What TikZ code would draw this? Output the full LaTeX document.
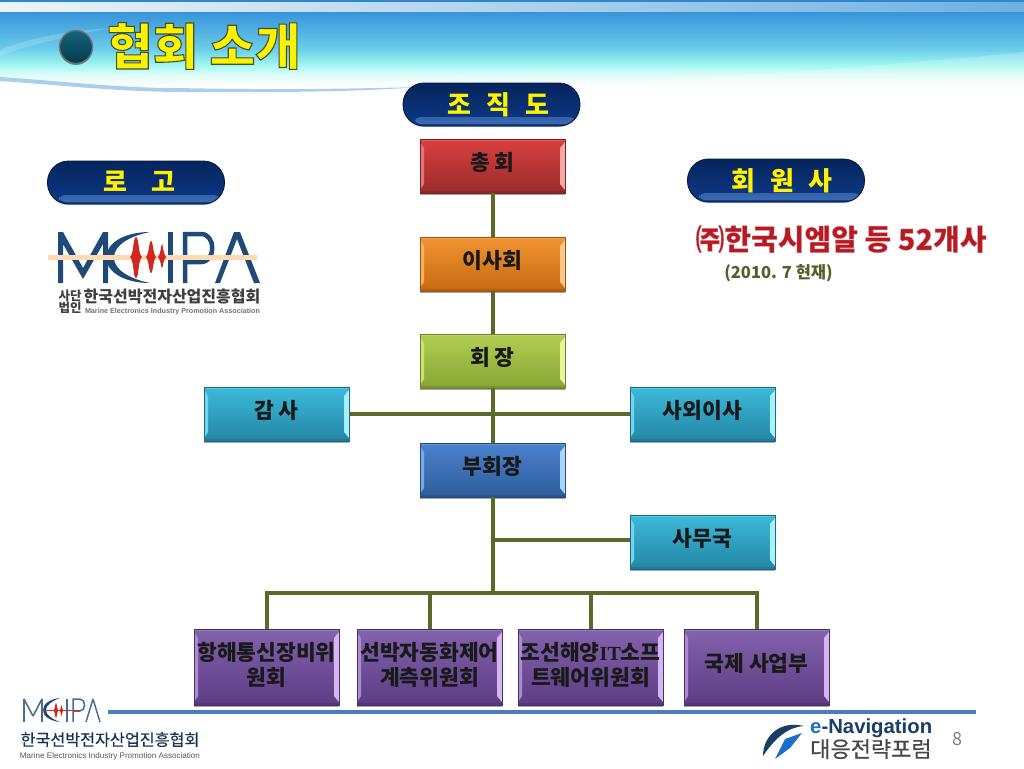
\documentclass[tikz,border=0pt]{standalone}
\usepackage{fontspec}
\usepackage{graphicx}
\setmainfont{Noto Sans CJK KR}
\newfontfamily\engfont{Liberation Sans}
\newfontfamily\itfont{Liberation Serif}
\usetikzlibrary{shadows}
\definecolor{conn}{HTML}{5A6A28}
\definecolor{navy}{HTML}{1F4A78}
\definecolor{logored}{HTML}{D0281E}
\definecolor{rA}{HTML}{D8403F}\definecolor{rB}{HTML}{9A2B2B}\definecolor{rL}{HTML}{F4A8A8}
\definecolor{oA}{HTML}{F29432}\definecolor{oB}{HTML}{C66A12}\definecolor{oL}{HTML}{FBC88C}
\definecolor{gA}{HTML}{B2CE52}\definecolor{gB}{HTML}{86A534}\definecolor{gL}{HTML}{E8F49C}
\definecolor{cA}{HTML}{3CBADA}\definecolor{cB}{HTML}{2386A6}\definecolor{cL}{HTML}{A8F0FC}
\definecolor{bA}{HTML}{4A82CE}\definecolor{bB}{HTML}{2E5C9C}\definecolor{bL}{HTML}{AAD6FA}
\definecolor{pA}{HTML}{8462AE}\definecolor{pB}{HTML}{5C3C84}\definecolor{pL}{HTML}{D4B6F0}
\definecolor{pillA}{HTML}{06245C}\definecolor{pillB}{HTML}{0E3A86}\definecolor{pillC}{HTML}{3E6CB4}
\definecolor{hA}{HTML}{3894DA}\definecolor{hB}{HTML}{6CCCEA}\definecolor{hC}{HTML}{A0F8F0}\definecolor{hD}{HTML}{DDFCF8}
\definecolor{topbar}{HTML}{2B88D0}\definecolor{paleL}{HTML}{EEF4FA}\definecolor{paleR}{HTML}{6FB0E0}
\definecolor{swoosh}{HTML}{A8D0EC}\definecolor{rule}{HTML}{4A7EBB}
\definecolor{memred}{HTML}{B81A24}\definecolor{dategreen}{HTML}{4F6228}\definecolor{eblue}{HTML}{1A70C8}
\definecolor{ballA}{HTML}{14637A}\definecolor{ballB}{HTML}{063A4E}
\pgfdeclareverticalshading{hdr}{100bp}{color(0bp)=(white);color(25bp)=(white);color(29bp)=(white);color(36bp)=(hD);color(42bp)=(hC);color(52bp)=(hB);color(75bp)=(hA);color(100bp)=(hA)}
\newcommand\outl[4]{{\addfontfeatures{FakeBold=#1}\color{#3}\special{pdf:code #2 RG}#4}}
\newcommand\dn{\rule[-9pt]{0pt}{0pt}}
\newcommand\dnb{\rule[-6pt]{0pt}{0pt}}
\tikzset{
  orgbox/.style n args={4}{rectangle,minimum width=#1,minimum height=#2,inner sep=0pt,align=center,
    top color=#3A,bottom color=#3B,draw=#3B!80!black,line width=.6pt,
    font=\fontsize{21.5}{25}\selectfont\bfseries,text=black!90,
    drop shadow={shadow xshift=0pt,shadow yshift=-2pt,opacity=.35,fill=black},
    path picture={
      \fill[#3L!50!#3A] ([xshift=0pt,yshift=-3pt]path picture bounding box.north west)--([xshift=4pt,yshift=-9pt]path picture bounding box.north west)--([xshift=4pt,yshift=9pt]path picture bounding box.south west)--([xshift=0pt,yshift=3pt]path picture bounding box.south west)--cycle;
      \fill[#3L] ([xshift=0pt,yshift=-3pt]path picture bounding box.north east)--([xshift=-5pt,yshift=-9pt]path picture bounding box.north east)--([xshift=-5pt,yshift=9pt]path picture bounding box.south east)--([xshift=0pt,yshift=3pt]path picture bounding box.south east)--cycle;
      \fill[#3B!90!black] ([yshift=2.5pt]path picture bounding box.south west) rectangle (path picture bounding box.south east);
      \fill[#3A!70!white,opacity=.5] ([yshift=-2pt]path picture bounding box.north west) rectangle (path picture bounding box.north east);
    }},
  pill/.style={rectangle,rounded corners=21pt,minimum width=#1,minimum height=43pt,inner sep=0pt,
    draw=pillA!70!black,line width=.8pt,top color=pillA,bottom color=pillB,
    drop shadow={shadow xshift=0pt,shadow yshift=-1pt,opacity=.3,fill=black},
    font=\fontsize{26}{30}\selectfont\bfseries,text=yellow,
    path picture={\shade[top color=pillB,bottom color=pillC,rounded corners=5pt] ([xshift=12pt,yshift=9pt]path picture bounding box.south west) rectangle ([xshift=-5pt,yshift=2pt]path picture bounding box.south east);}},
  connector/.style={draw=conn,line width=4pt,line cap=butt},
  lbl/.style={inner sep=0pt,text=black}
}
\begin{document}
\begin{tikzpicture}[x=1pt,y=-1pt]
\useasboundingbox (0,0) rectangle (1024,768);
\fill[white] (0,0) rectangle (1024,768);
% header
\shade[shading=hdr] (0,12) rectangle (1024,92);
\fill[topbar] (0,0) rectangle (1024,2.5);
\shade[left color=paleL,right color=paleR] (0,2.5) rectangle (1024,12);
\fill[white,opacity=.18] (0,50) .. controls (30,38) and (60,32) .. (110,28) .. controls (70,36) and (30,44) .. (0,56) -- cycle;
\fill[white,opacity=.2] (400,91) .. controls (600,86) and (850,70) .. (1024,52) -- (1024,91) -- cycle;
\fill[white] (0,81) .. controls (60,85) and (120,92) .. (200,92) -- (1024,92) -- (1024,100) -- (0,100) -- cycle;
\fill[swoosh] (0,77) .. controls (60,81) and (120,88) .. (175,88) .. controls (280,90) and (340,89) .. (420,87) .. controls (340,93) and (260,92) .. (175,92) .. controls (110,91) and (60,85) .. (0,81) -- cycle;
\node[circle,minimum size=33pt,inner sep=0pt,draw=black!55,line width=1.4pt,top color=ballA,bottom color=ballB,drop shadow={shadow xshift=0pt,shadow yshift=-1.5pt,opacity=.4,fill=black}] (bullet) at (76,47) {};
\node[lbl,font=\fontsize{49.5}{52}\selectfont\bfseries] (title) at (204,46) {\outl{2.2}{0.24 0.32 0.18}{yellow}{협회 소개}};
% pills
\node[pill=177pt] (pOrg) at (491.5,104.5) {\raisebox{1.5pt}{\hspace*{14pt}조\hspace{15.5pt}직\hspace{15.5pt}도}};
\node[pill=177pt] (pLogo) at (136,182.5) {\raisebox{1.5pt}{\hspace*{7pt}로\hspace{24pt}고}};
\node[pill=177pt] (pMem) at (776,180.5) {\raisebox{1.5pt}{\hspace*{12pt}회\hspace{15pt}원\hspace{15pt}사}};
% boxes
\node[orgbox={145pt}{54pt}{r}{}] (chong) at (492.5,166) {총 회\dn};
\node[orgbox={145pt}{54pt}{o}{}] (isa) at (492.5,264) {이사회\dn};
\node[orgbox={145pt}{54pt}{g}{}] (chair) at (492.5,361) {회 장\dn};
\node[orgbox={145pt}{54pt}{c}{}] (gamsa) at (276.5,414) {감 사\dn};
\node[orgbox={145pt}{54pt}{c}{}] (oe) at (702.5,414) {사외이사\dn};
\node[orgbox={145pt}{54pt}{b}{}] (vp) at (492.5,470) {부회장\dn};
\node[orgbox={145pt}{54pt}{c}{}] (samu) at (702.5,542) {사무국\dn};
\node[orgbox={145pt}{76pt}{p}{}] (c1) at (266.5,667) {항해통신장비위\\원회\dnb};
\node[orgbox={145pt}{76pt}{p}{}] (c2) at (429.5,667) {선박자동화제어\\계측위원회\dnb};
\node[orgbox={145pt}{76pt}{p}{}] (c3) at (590.5,667) {조선해양{\itfont\fontsize{20}{25}\selectfont\bfseries IT}소프\\트웨어위원회\dnb};
\node[orgbox={145pt}{76pt}{p}{}] (c4) at (756.5,667) {국제 사업부\dn};
% connectors
\coordinate (bus) at (492.5,593);
\draw[connector] (chong) -- (isa);
\draw[connector] (isa) -- (chair);
\draw[connector] (chair) -- (vp);
\draw[connector] (gamsa) -- (oe);
\draw[connector] (vp) -- (bus);
\draw[connector] ([yshift=2pt]samu.west) -- ([yshift=2pt]samu.west -| vp.south);
\draw[connector] (c1.north) |- (bus);
\draw[connector] (c2.north) |- (bus);
\draw[connector] (c3.north) |- (bus);
\draw[connector] (c4.north) |- (bus);
% member text
\node[lbl,font=\fontsize{29}{31}\selectfont\bfseries] (mem) at (841,239) {\outl{1.1}{0.86 0.62 0.62}{memred}{㈜한국시엠알 등 52개사}};
\node[lbl,font=\fontsize{16.5}{18}\selectfont\bfseries,text=dategreen] (date) at (778.5,273) {(2010. 7 현재)};
% big logo
\begin{scope}[shift={(58,232)}]
  \fill[navy] (0,51) -- (0,0) -- (5,0) -- (25,36) -- (45,0) -- (50,0) -- (50,51) -- (45,51) -- (45,12) -- (25,47) -- (5,12) -- (5,51) -- cycle;
  \fill[navy] (92,0) .. controls (65,0) and (48,12) .. (48,25.5) .. controls (48,39) and (65,51) .. (92,51) .. controls (72,47) and (56,38) .. (56,25.5) .. controls (56,13) and (72,4) .. (92,0) -- cycle;
  \fill[navy] (110,0) rectangle (115,51);
  \draw[navy,line width=4.5pt] (127,51) -- (127,2) -- (143,2) .. controls (158,2) and (158,30) .. (143,30) -- (127,30);
  \fill[navy] (157,51) -- (176,0) -- (182,0) -- (202,51) -- (196,51) -- (179,7) -- (162,51) -- cycle;
  \shade[left color=orange!30!white,middle color=logored!70!orange,right color=orange!30!white] (-10,23.5) rectangle (199,27);
  \fill[logored] (72,25) .. controls (76,22) and (75,5) .. (78,5) .. controls (81,5) and (80,22) .. (84,25) .. controls (80,28) and (81,46) .. (78,46) .. controls (75,46) and (76,28) .. (72,25) -- cycle;
  \fill[logored] (88,25) .. controls (91,22) and (91,9) .. (93,9) .. controls (95,9) and (95,22) .. (98,25) .. controls (95,28) and (95,41) .. (93,41) .. controls (91,41) and (91,28) .. (88,25) -- cycle;
  \fill[logored] (100,25) .. controls (103,22) and (103,12) .. (104,12) .. controls (105,12) and (105,22) .. (108,25) .. controls (105,28) and (105,36) .. (104,36) .. controls (103,36) and (103,28) .. (100,25) -- cycle;
\end{scope}
\node[lbl,font=\fontsize{12.5}{13}\selectfont\bfseries,text=black!75] (sadan) at (70,295.5) {사단};
\node[lbl,font=\fontsize{12.5}{13}\selectfont\bfseries,text=black!75] (beobin) at (70,307.5) {법인};
\node[lbl,font=\fontsize{16}{18}\selectfont\bfseries,text=black!75] (kname) at (172,296) {한국선박전자산업진흥협회};
\node[lbl,text=black!55,font=\engfont\bfseries] (ename) at (172.5,311.5) {\resizebox{175pt}{!}{Marine Electronics Industry Promotion Association}};
% bottom rule
\coordinate (ruleL) at (108,712);
\coordinate (ruleR) at (976,712);
\draw[rule,line width=4pt] (ruleL) -- (ruleR);
% small logo
\begin{scope}[shift={(23,698)}]
  \draw[navy!80!white,line width=1.6pt,line join=bevel] (1,24) -- (1,1) -- (10,18) -- (19,1) -- (19,24);
  \fill[navy] (37,0) .. controls (27,1) and (20,6) .. (20,12) .. controls (20,18) and (27,23) .. (37,24) .. controls (29,21) and (23,17) .. (23,12) .. controls (23,7) and (29,3) .. (37,0) -- cycle;
  \fill[navy!80!white] (43,1) rectangle (45,24);
  \draw[navy!80!white,line width=1.5pt] (50,24) -- (50,1) -- (57,1) .. controls (63,1) and (63,13) .. (57,13) -- (50,13);
  \draw[navy!80!white,line width=1.5pt,line join=bevel] (63,24) -- (70,1) -- (77,24);
  \fill[logored] (20,12.2) rectangle (57,13.2);
  \fill[logored] (31,12.5) -- (33,4) -- (35,12.5) -- (33,21) -- cycle;
  \fill[logored] (37,12.5) -- (38.5,7) -- (40,12.5) -- (38.5,18) -- cycle;
\end{scope}
\node[lbl,font=\fontsize{16.2}{18}\selectfont,text=navy!70!black] (kname2) at (110,739.5) {\outl{0.4}{0.12 0.25 0.38}{navy!70!black}{한국선박전자산업진흥협회}};
\node[lbl,text=black!65,font=\engfont] (ename2) at (110,756) {\resizebox{180pt}{!}{Marine Electronics Industry Promotion Association}};
% forum logo
\fill[navy!85!black] (763,756) .. controls (763,736) and (780,720) .. (804,726) .. controls (788,727) and (775,738) .. (763,756) -- cycle;
\fill[eblue] (775,759) -- (785,739) -- (802,733) -- (790,748) -- cycle;
\node[lbl,anchor=west] (enav) at (810,728) {\resizebox{122pt}{!}{\engfont\bfseries\textcolor{eblue}{e}\textcolor{navy!85!black}{-Navigation}}};
\node[lbl,font=\fontsize{22}{24}\selectfont,anchor=west] (forum) at (810,749) {\outl{0.4}{0.28 0.28 0.28}{black!72}{대응전략포럼}};
\node[lbl,font=\fontsize{18}{20}\selectfont,text=black!50] (pageno) at (957,739) {8};
\end{tikzpicture}
\end{document}
